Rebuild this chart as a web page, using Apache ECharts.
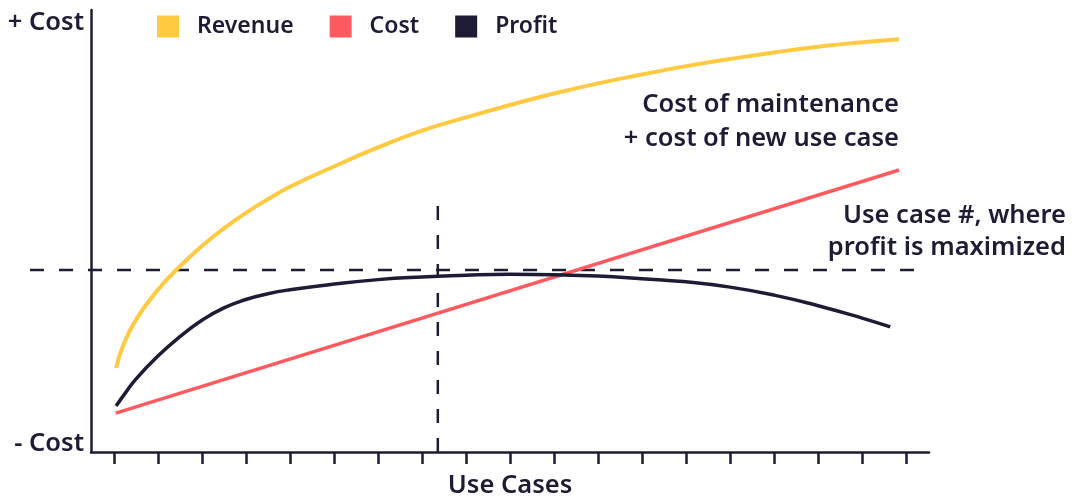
<!DOCTYPE html>
<html>
<head>
<meta charset="utf-8">
<script src="https://cdn.jsdelivr.net/npm/echarts@6/dist/echarts.min.js"></script>
<style>
  html, body { margin: 0; padding: 0; background: #fff; }
  #chart { width: 1072px; height: 501px; }
</style>
</head>
<body>
<div id="chart"></div>
<script>
// tick positions along the use case axis
var useCaseTicks = [0, 1, 2, 3, 4, 5, 6, 7, 8, 9, 10, 11, 12, 13, 14, 15, 16, 17, 18];
var costLabels = ['- Cost', '+ Cost'];

// [use case, level]
var revenue = [[0.05, 19.0], [0.2, 23.8], [0.5, 29.9], [1, 36.7], [1.5, 42.0], [2, 46.6], [2.5, 50.6],
    [3, 54.1], [3.5, 57.2], [4, 60.0], [5, 64.6], [6, 68.9], [7, 72.7], [8, 75.7], [9, 78.5],
    [10, 81.1], [11, 83.4], [12, 85.4], [13, 87.3], [14, 88.9], [15, 90.4], [16, 91.7],
    [17, 92.7], [17.84, 93.4]];
var cost = [[0.045, 8.8], [17.84, 63.8]];
var profit = [[0.05, 10.4], [0.25, 13.2], [0.5, 16.5], [1, 21.7], [1.5, 26.1], [2, 29.8], [2.5, 32.6],
    [3, 34.5], [3.5, 35.8], [4, 36.7], [5, 38.0], [6, 39.0], [7, 39.6], [8, 40.0], [9, 40.2],
    [10, 40.1], [11, 39.8], [12, 39.2], [13, 38.5], [14, 37.3], [15, 35.5], [16, 33.1],
    [17, 30.3], [17.64, 28.3]];

// dashed guides for the best use case
var peakUseCase = 7.36;
var peakLevel = 41.2;
var peakLineTop = 56.6;
var levelLine = [[-1.906, peakLevel], [18.5, peakLevel]];
var peakLine = [[peakUseCase, 0], [peakUseCase, peakLineTop]];

var dark = '#1e1b34';
var labelFont = '600 25.5px "Noto Sans"';

window.onload = function () {
    var chartDom = document.getElementById('chart');
    var myChart = echarts.init(chartDom);
    var option;

    function note(text, x, y) {
        return {
            type: 'text',
            x: x,
            y: y,
            silent: true,
            style: {
                text: text,
                font: labelFont,
                fill: dark,
                align: 'right',
                textAlign: 'right',
                verticalAlign: 'middle',
                textVerticalAlign: 'middle'
            }
        };
    }

    function guide(data, axisIndex) {
        return {
            type: 'line',
            silent: true,
            xAxisIndex: axisIndex,
            yAxisIndex: axisIndex,
            showSymbol: false,
            color: dark,
            lineStyle: { width: 2.5, type: [14, 15] },
            data: data
        };
    }

    option = {
        animation: false,
        textStyle: { fontFamily: 'Noto Sans' },
        legend: {
            left: 157,
            top: 15,
            padding: 0,
            icon: 'rect',
            itemWidth: 22,
            itemHeight: 22,
            itemGap: 36,
            textStyle: { fontSize: 23, fontWeight: 600, color: dark, padding: [0, 0, 0, 13] },
            data: ['Revenue', 'Cost', 'Profit']
        },
        grid: [
            { left: 91, right: 143, top: 10, bottom: 49, containLabel: false, outerBoundsMode: 'none' },
            // same scale, reaching further left for the level guide
            { left: 30, right: 143, top: 10, bottom: 49, containLabel: false, outerBoundsMode: 'none' }
        ],
        xAxis: [
            {
                type: 'value',
                gridIndex: 0,
                min: -0.52,
                max: 18.52,
                name: 'Use Cases',
                nameLocation: 'middle',
                nameGap: 21,
                nameTextStyle: { fontSize: 25.5, fontWeight: 600, color: dark },
                axisLine: { lineStyle: { color: dark, width: 2.5 } },
                axisTick: {
                    show: true,
                    length: 12,
                    customValues: useCaseTicks,
                    lineStyle: { color: dark, width: 2.5 }
                },
                axisLabel: { show: false },
                splitLine: { show: false }
            },
            {
                type: 'value',
                gridIndex: 1,
                min: -1.906,
                max: 18.52,
                show: false
            }
        ],
        yAxis: [
            {
                type: 'value',
                gridIndex: 0,
                min: 0,
                max: 100,
                axisLine: { show: true, onZero: false, lineStyle: { color: dark, width: 2.5 } },
                axisTick: { show: false },
                splitLine: { show: false },
                axisLabel: {
                    customValues: [0, 100],
                    formatter: function (v) { return v === 0 ? costLabels[0] : costLabels[1]; },
                    margin: 7,
                    fontSize: 25.5,
                    lineHeight: 16,
                    padding: [5, 0, 0, 0],
                    fontWeight: 600,
                    color: dark,
                    verticalAlignMinLabel: 'bottom',
                    verticalAlignMaxLabel: 'top'
                }
            },
            {
                type: 'value',
                gridIndex: 1,
                min: 0,
                max: 100,
                show: false
            }
        ],
        graphic: [
            note('Cost of maintenance', 899, 105),
            note('+ cost of new use case', 899, 139),
            note('Use case #, where', 1066, 216),
            note('profit is maximized', 1066, 248)
        ],
        series: [
            guide(levelLine, 1),
            guide(peakLine, 0),
            {
                name: 'Revenue',
                type: 'line',
                smooth: 0.5,
                showSymbol: false,
                color: '#ffc940',
                lineStyle: { width: 4 },
                data: revenue
            },
            {
                name: 'Cost',
                type: 'line',
                showSymbol: false,
                color: '#ff5a5f',
                lineStyle: { width: 3.5 },
                data: cost
            },
            {
                name: 'Profit',
                type: 'line',
                smooth: 0.5,
                showSymbol: false,
                color: dark,
                lineStyle: { width: 3.5 },
                data: profit
            }
        ]
    };

    myChart.setOption(option);
}
</script>
</body>
</html>
